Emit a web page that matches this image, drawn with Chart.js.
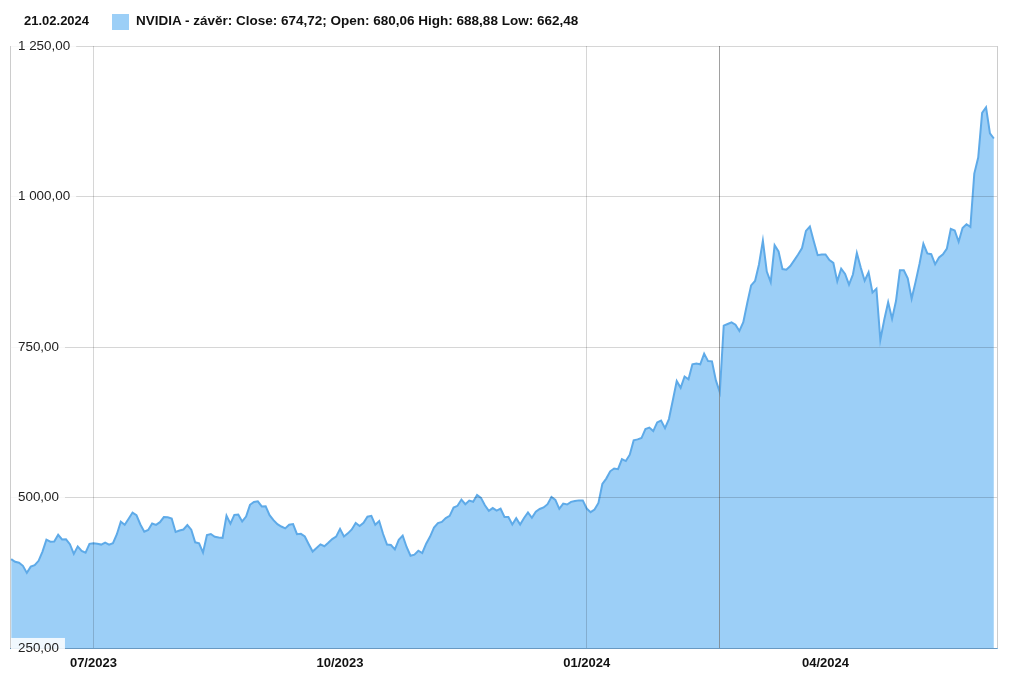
<!DOCTYPE html>
<html>
<head>
<meta charset="utf-8">
<script src="https://cdn.jsdelivr.net/npm/chart.js@4/dist/chart.umd.min.js"></script>
<style>
  html, body { margin: 0; padding: 0; background: #fff; }
  #wrap { position: relative; width: 1017px; height: 678px; }
  canvas { position: absolute; left: 0; top: 0; }
  .hdr { position: absolute; font-family: "Liberation Sans", Arial, sans-serif; font-weight: bold; color: #111; white-space: nowrap; }
  #date { left: 24px; top: 13px; font-size: 13px; }
  #swatch { position: absolute; left: 112px; top: 14px; width: 17px; height: 16px; background: #9ccff7; }
  #legend { left: 136px; top: 13px; font-size: 13.5px; }
</style>
</head>
<body>
<div id="wrap">
  <canvas id="c" width="1017" height="678"></canvas>
  <div class="hdr" id="date">21.02.2024</div>
  <div id="swatch"></div>
  <div class="hdr" id="legend">NVIDIA - závěr: Close: 674,72; Open: 680,06 High: 688,88 Low: 662,48</div>
</div>
<script>
// Trading days (June 2023 – May 2024)
const dates = [
  '2023-06-01','2023-06-02','2023-06-05','2023-06-06','2023-06-07','2023-06-08','2023-06-09','2023-06-12','2023-06-13','2023-06-14','2023-06-15','2023-06-16','2023-06-20','2023-06-21','2023-06-22','2023-06-23','2023-06-26','2023-06-27','2023-06-28','2023-06-29','2023-06-30',
  '2023-07-03','2023-07-05','2023-07-06','2023-07-07','2023-07-10','2023-07-11','2023-07-12','2023-07-13','2023-07-14','2023-07-17','2023-07-18','2023-07-19','2023-07-20','2023-07-21','2023-07-24','2023-07-25','2023-07-26','2023-07-27','2023-07-28','2023-07-31',
  '2023-08-01','2023-08-02','2023-08-03','2023-08-04','2023-08-07','2023-08-08','2023-08-09','2023-08-10','2023-08-11','2023-08-14','2023-08-15','2023-08-16','2023-08-17','2023-08-18','2023-08-21','2023-08-22','2023-08-23','2023-08-24','2023-08-25','2023-08-28','2023-08-29','2023-08-30','2023-08-31',
  '2023-09-01','2023-09-05','2023-09-06','2023-09-07','2023-09-08','2023-09-11','2023-09-12','2023-09-13','2023-09-14','2023-09-15','2023-09-18','2023-09-19','2023-09-20','2023-09-21','2023-09-22','2023-09-25','2023-09-26','2023-09-27','2023-09-28','2023-09-29',
  '2023-10-02','2023-10-03','2023-10-04','2023-10-05','2023-10-06','2023-10-09','2023-10-10','2023-10-11','2023-10-12','2023-10-13','2023-10-16','2023-10-17','2023-10-18','2023-10-19','2023-10-20','2023-10-23','2023-10-24','2023-10-25','2023-10-26','2023-10-27','2023-10-30','2023-10-31',
  '2023-11-01','2023-11-02','2023-11-03','2023-11-06','2023-11-07','2023-11-08','2023-11-09','2023-11-10','2023-11-13','2023-11-14','2023-11-15','2023-11-16','2023-11-17','2023-11-20','2023-11-21','2023-11-22','2023-11-24','2023-11-27','2023-11-28','2023-11-29','2023-11-30',
  '2023-12-01','2023-12-04','2023-12-05','2023-12-06','2023-12-07','2023-12-08','2023-12-11','2023-12-12','2023-12-13','2023-12-14','2023-12-15','2023-12-18','2023-12-19','2023-12-20','2023-12-21','2023-12-22','2023-12-26','2023-12-27','2023-12-28','2023-12-29',
  '2024-01-02','2024-01-03','2024-01-04','2024-01-05','2024-01-08','2024-01-09','2024-01-10','2024-01-11','2024-01-12','2024-01-16','2024-01-17','2024-01-18','2024-01-19','2024-01-22','2024-01-23','2024-01-24','2024-01-25','2024-01-26','2024-01-29','2024-01-30','2024-01-31',
  '2024-02-01','2024-02-02','2024-02-05','2024-02-06','2024-02-07','2024-02-08','2024-02-09','2024-02-12','2024-02-13','2024-02-14','2024-02-15','2024-02-16','2024-02-20','2024-02-21','2024-02-22','2024-02-23','2024-02-26','2024-02-27','2024-02-28','2024-02-29',
  '2024-03-01','2024-03-04','2024-03-05','2024-03-06','2024-03-07','2024-03-08','2024-03-11','2024-03-12','2024-03-13','2024-03-14','2024-03-15','2024-03-18','2024-03-19','2024-03-20','2024-03-21','2024-03-22','2024-03-25','2024-03-26','2024-03-27','2024-03-28',
  '2024-04-01','2024-04-02','2024-04-03','2024-04-04','2024-04-05','2024-04-08','2024-04-09','2024-04-10','2024-04-11','2024-04-12','2024-04-15','2024-04-16','2024-04-17','2024-04-18','2024-04-19','2024-04-22','2024-04-23','2024-04-24','2024-04-25','2024-04-26','2024-04-29','2024-04-30',
  '2024-05-01','2024-05-02','2024-05-03','2024-05-06','2024-05-07','2024-05-08','2024-05-09','2024-05-10','2024-05-13','2024-05-14','2024-05-15','2024-05-16','2024-05-17','2024-05-20','2024-05-21','2024-05-22','2024-05-23','2024-05-24','2024-05-28','2024-05-29','2024-05-30','2024-05-31'
];

// NVIDIA daily close
const closes = [
  397.70,393.27,391.71,386.54,374.75,385.10,387.70,394.82,410.22,429.97,426.53,426.92,438.08,430.25,430.42,422.48,406.32,418.76,411.17,408.22,423.02,
  424.13,423.13,421.80,425.03,421.80,424.06,439.02,459.77,454.69,464.61,474.94,470.77,455.20,443.09,446.12,456.79,454.52,459.00,467.50,467.29,
  465.07,442.69,445.15,446.80,454.17,446.64,425.54,423.88,408.55,437.53,439.40,434.86,433.44,432.99,469.67,456.68,471.16,471.63,460.18,468.35,487.84,492.64,493.55,
  485.09,485.48,470.61,462.41,455.72,451.78,448.70,454.85,455.81,439.00,439.66,435.20,422.39,410.17,416.10,422.22,419.11,424.68,430.89,434.99,
  447.82,435.17,440.41,446.88,457.62,452.73,457.98,468.06,469.45,454.61,460.95,439.38,421.96,421.01,413.87,429.75,436.63,417.79,403.26,405.00,411.61,407.80,
  423.25,435.06,450.05,457.51,459.55,465.74,469.50,483.35,486.20,496.56,488.88,494.80,492.98,504.09,499.44,487.16,477.76,482.42,478.21,481.40,467.70,
  467.65,455.10,465.66,455.03,465.96,475.06,466.27,476.57,480.88,483.50,488.90,500.77,496.04,481.11,489.90,488.30,492.79,494.17,495.22,495.22,
  481.68,475.69,479.98,490.97,522.53,531.40,543.50,548.22,547.10,563.82,560.53,571.07,594.91,596.54,598.73,613.62,616.17,610.31,624.65,627.74,615.27,
  630.27,661.60,693.32,682.23,700.99,696.41,721.33,722.48,721.28,739.00,726.58,726.13,694.52,674.72,785.38,788.17,790.92,787.01,776.63,791.12,
  822.79,852.37,859.64,887.00,926.69,875.28,857.74,919.13,908.88,879.44,878.37,884.55,893.98,903.72,914.35,942.89,950.02,925.61,902.50,903.56,
  903.63,894.52,889.64,859.05,880.08,871.33,853.54,870.39,906.16,881.86,860.01,874.15,840.35,846.71,762.00,795.18,824.23,796.77,826.32,877.35,877.57,864.02,
  830.41,858.17,887.89,921.40,905.54,904.12,887.47,898.78,903.99,913.56,946.30,943.59,924.79,947.80,953.86,949.50,1037.99,1064.69,1139.01,1148.25,1105.00,1096.33
];

const xTickDates = ['2023-07-03','2023-10-02','2024-01-02','2024-04-01'];
const xTickLabels = ['07/2023','10/2023','01/2024','04/2024'];
const xGridDates = ['2023-07-03','2024-01-02'];
const yTicks = [250, 500, 750, 1000, 1250];
const yTickLabels = ['250,00','500,00','750,00','1 000,00','1 250,00'];
const selectedDate = '2024-02-21';

const points = closes.map((v, i) => ({ x: i, y: v }));
const xTickIdx = xTickDates.map(d => dates.indexOf(d));
const xGridIdx = xGridDates.map(d => dates.indexOf(d));
const selIdx = dates.indexOf(selectedDate);

const crosshair = {
  id: 'crosshair',
  afterDatasetsDraw(chart) {
    const { ctx, chartArea, scales } = chart;
    const x = Math.round(scales.x.getPixelForValue(selIdx)) - 0.5;
    ctx.save();
    ctx.strokeStyle = 'rgba(120,120,120,0.7)';
    ctx.lineWidth = 1;
    ctx.beginPath();
    ctx.moveTo(x, chartArea.top);
    ctx.lineTo(x, chartArea.bottom);
    ctx.stroke();
    ctx.restore();
  }
};

const font = '"Liberation Sans", Arial, sans-serif';

new Chart(document.getElementById('c'), {
  type: 'line',
  data: {
    datasets: [{
      label: 'NVIDIA - závěr',
      data: points,
      borderColor: '#5eaae8',
      backgroundColor: '#9ccff7',
      borderWidth: 2,
      fill: 'start',
      pointRadius: 0,
      tension: 0
    }]
  },
  options: {
    responsive: false,
    animation: false,
    layout: { padding: { left: 10, right: 20, top: 46, bottom: 0 } },
    plugins: { legend: { display: false }, tooltip: { enabled: false }, title: { display: false } },
    scales: {
      x: {
        type: 'linear',
        min: -0.3,
        max: 251.8,
        afterBuildTicks: (s) => { s.ticks = xTickIdx.map(v => ({ value: v })); },
        afterFit: (s) => { s.height = 30; },
        ticks: {
          z: 1,
          autoSkip: false,
          maxRotation: 0,
          padding: 8,
          color: '#111',
          font: { family: font, size: 13, weight: 'bold' },
          callback: (v) => { const k = xTickIdx.indexOf(v); return k >= 0 ? xTickLabels[k] : ''; }
        },
        grid: {
          z: 1,
          drawTicks: false,
          color: (c) => (c.tick && xGridIdx.includes(c.tick.value)) ? 'rgba(0,0,0,0.16)' : 'rgba(0,0,0,0)'
        },
        border: { z: 1, display: true, color: '#7db7e8' }
      },
      y: {
        type: 'linear',
        min: 250,
        max: 1250,
        afterBuildTicks: (s) => { s.ticks = yTicks.map(v => ({ value: v })); },
        afterFit: (s) => { s.width = 0; },
        ticks: {
          z: 2,
          mirror: true,
          padding: 8,
          color: '#222',
          font: { family: font, size: 13.4 },
          showLabelBackdrop: true,
          backdropColor: 'rgba(255,255,255,0.85)',
          backdropPadding: { left: 7, right: 6, top: 2, bottom: 1 },
          callback: (v) => { const k = yTicks.indexOf(v); return k >= 0 ? yTickLabels[k] : ''; }
        },
        grid: { z: 1, drawTicks: false, color: 'rgba(0,0,0,0.16)' },
        border: { z: 1, display: true, color: 'rgba(0,0,0,0.2)' }
      },
      y2: {
        type: 'linear',
        position: 'right',
        min: 250,
        max: 1250,
        afterFit: (s) => { s.width = 0; },
        ticks: { display: false },
        grid: { display: false },
        border: { display: true, color: 'rgba(0,0,0,0.2)' }
      }
    }
  },
  plugins: [crosshair]
});
</script>
</body>
</html>
